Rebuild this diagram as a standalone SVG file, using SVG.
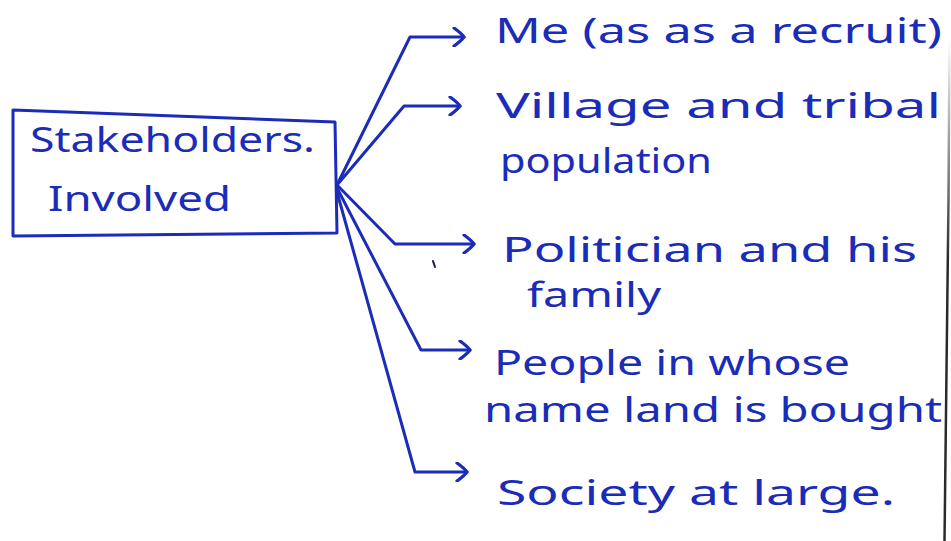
<svg xmlns="http://www.w3.org/2000/svg" width="951" height="541" viewBox="0 0 951 541">
  <style>
    .ink { fill: none; stroke: #1a2cb8; stroke-width: 3; stroke-linecap: round; stroke-linejoin: round; }
    .lbl { fill: #1a2cb8; font-family: "Noto Sans", "DejaVu Sans", sans-serif; font-size: 34px; }
  </style>
  <defs>
    <marker id="chev" viewBox="0 0 14 20" refX="12" refY="10" markerWidth="14" markerHeight="20" markerUnits="userSpaceOnUse" orient="auto">
      <path d="M2,1 Q9,6 12,10 Q9,14 2,19" fill="none" stroke="#1a2cb8" stroke-width="3.2" stroke-linecap="round" stroke-linejoin="round"/>
    </marker>
    <linearGradient id="edgeFade" gradientUnits="userSpaceOnUse" x1="0" y1="40" x2="0" y2="260">
      <stop offset="0" stop-color="#2a2a2a" stop-opacity="0"/>
      <stop offset="1" stop-color="#2a2a2a" stop-opacity="1"/>
    </linearGradient>
  </defs>
  <rect width="951" height="541" fill="#ffffff"/>

  <!-- page edge -->
  <path d="M949.5,40 L948.5,200 L944.5,541" fill="none" stroke="url(#edgeFade)" stroke-width="2.5"/>

  <!-- central node -->
  <g id="stakeholders">
    <path class="ink" d="M13,110 L335,122 L337,233 L13,236 Z"/>
    <text class="lbl" x="30" y="152" textLength="285" lengthAdjust="spacingAndGlyphs">Stakeholders.</text>
    <text class="lbl" x="48" y="211" textLength="183" lengthAdjust="spacingAndGlyphs">Involved</text>
  </g>

  <!-- connectors -->
  <g id="connectors">
    <polyline class="ink" points="337,185 410,37 464,37" marker-end="url(#chev)"/>
    <polyline class="ink" points="337,185 404,106 460,106" marker-end="url(#chev)"/>
    <polyline class="ink" points="337,185 395,244 474,244" marker-end="url(#chev)"/>
    <polyline class="ink" points="337,188 421,350 470,350" marker-end="url(#chev)"/>
    <polyline class="ink" points="337,192 415,472 467,472" marker-end="url(#chev)"/>
    <path d="M433,261 L435,267" stroke="#1a1a40" stroke-width="2" stroke-linecap="round"/>
  </g>

  <g id="recruit">
    <text class="lbl" x="495" y="43" textLength="447" lengthAdjust="spacingAndGlyphs">Me (as as a recruit)</text>
  </g>
  <g id="village">
    <text class="lbl" x="496" y="118" textLength="445" lengthAdjust="spacingAndGlyphs">Village and tribal</text>
    <text class="lbl" x="500" y="173" textLength="212" lengthAdjust="spacingAndGlyphs">population</text>
  </g>
  <g id="politician">
    <text class="lbl" x="502" y="262" textLength="415" lengthAdjust="spacingAndGlyphs">Politician and his</text>
    <text class="lbl" x="527" y="307" textLength="134" lengthAdjust="spacingAndGlyphs">family</text>
  </g>
  <g id="landholders">
    <text class="lbl" x="494" y="375" textLength="356" lengthAdjust="spacingAndGlyphs">People in whose</text>
    <text class="lbl" x="484" y="422" textLength="458" lengthAdjust="spacingAndGlyphs">name land is bought</text>
  </g>
  <g id="society">
    <text class="lbl" x="497" y="505" textLength="398" lengthAdjust="spacingAndGlyphs">Society at large.</text>
  </g>
</svg>
